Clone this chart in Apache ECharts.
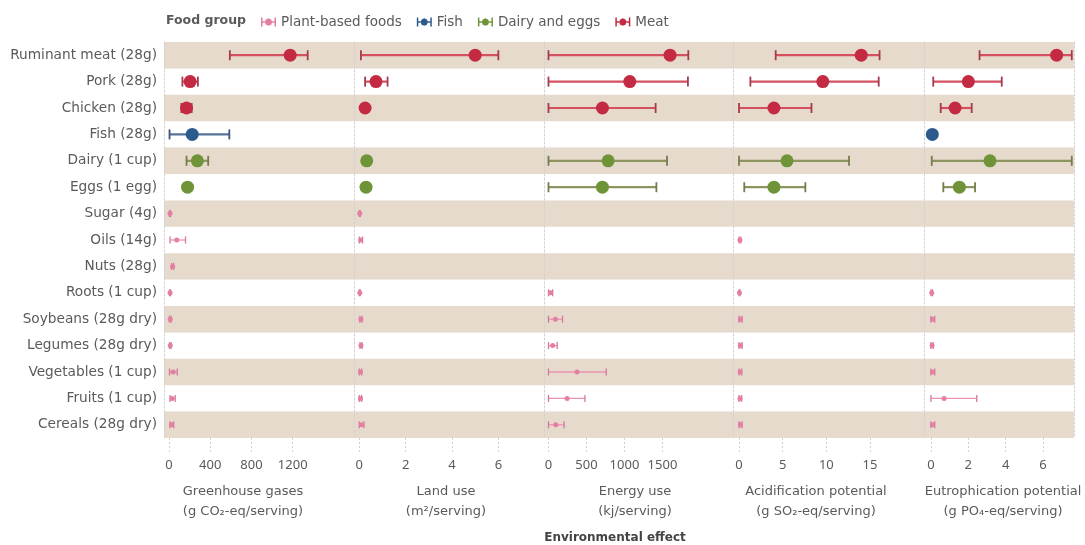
<!DOCTYPE html>
<html>
<head>
<meta charset="utf-8">
<title>Environmental effect of foods per serving</title>
<script src="https://cdn.jsdelivr.net/npm/echarts@6/dist/echarts.min.js"></script>
<style>
  html, body { margin: 0; padding: 0; background: #ffffff; }
  #chart { width: 1085px; height: 545px; }
</style>
</head>
<body>
<div id="chart"></div>
<script>
// Foods, top to bottom, with the food group each one belongs to
const categories = [
  'Ruminant meat (28g)', 'Pork (28g)', 'Chicken (28g)', 'Fish (28g)',
  'Dairy (1 cup)', 'Eggs (1 egg)', 'Sugar (4g)', 'Oils (14g)', 'Nuts (28g)',
  'Roots (1 cup)', 'Soybeans (28g dry)', 'Legumes (28g dry)',
  'Vegetables (1 cup)', 'Fruits (1 cup)', 'Cereals (28g dry)'
];
const foodGroups = [
  'Meat', 'Meat', 'Meat', 'Fish', 'Dairy and eggs', 'Dairy and eggs',
  'Plant-based foods', 'Plant-based foods', 'Plant-based foods',
  'Plant-based foods', 'Plant-based foods', 'Plant-based foods',
  'Plant-based foods', 'Plant-based foods', 'Plant-based foods'
];
const legendOrder = ['Plant-based foods', 'Fish', 'Dairy and eggs', 'Meat'];

// [low, median, high] per serving; null where no estimate exists
const greenhouse = [
  [590, 1175, 1345], [130, 205, 280], [120, 170, 220], [5, 225, 585],
  [170, 275, 380], [155, 180, 205], [5, 10, 15], [10, 75, 160], [25, 35, 45],
  [5, 10, 15], [5, 12, 20], [5, 12, 20], [5, 40, 80], [10, 30, 60], [10, 25, 45]
];
const landUse = [
  [0.07, 5.0, 6.0], [0.25, 0.72, 1.22], [0.15, 0.25, 0.35], null,
  [0.2, 0.32, 0.45], [0.2, 0.29, 0.4], [0.0, 0.02, 0.04], [0.0, 0.06, 0.14], null,
  [0.0, 0.02, 0.04], [0.02, 0.07, 0.12], [0.03, 0.07, 0.12], [0.0, 0.05, 0.1],
  [0.0, 0.05, 0.1], [0.0, 0.09, 0.2]
];
const energyUse = [
  [0, 1600, 1840], [0, 1070, 1835], [0, 710, 1410], null,
  [0, 785, 1560], [0, 710, 1420], null, null, null,
  [0, 25, 55], [0, 90, 185], [0, 55, 115], [0, 375, 760], [0, 245, 480], [0, 95, 205]
];
const acidification = [
  [4.2, 14.0, 16.1], [1.3, 9.6, 16.0], [0, 4.0, 8.3], null,
  [0, 5.5, 12.6], [0.6, 4.0, 7.6], null, [0, 0.1, 0.2], null,
  [0.0, 0.05, 0.1], [0, 0.15, 0.35], [0, 0.15, 0.35], [0, 0.12, 0.3],
  [0, 0.12, 0.3], [0, 0.15, 0.35]
];
const eutrophication = [
  [2.6, 6.73, 7.54], [0.12, 2.0, 3.79], [0.52, 1.29, 2.18], [0.02, 0.07, 0.12],
  [0.04, 3.16, 7.54], [0.66, 1.52, 2.36], null, null, null,
  [0, 0.04, 0.08], [0, 0.08, 0.2], [0, 0.06, 0.12], [0, 0.08, 0.2],
  [0, 0.7, 2.45], [0, 0.08, 0.2]
];

// Tick values shown under each panel
const greenhouseTicks = [0, 400, 800, 1200];
const landTicks = [0, 2, 4, 6];
const energyTicks = [0, 500, 1000, 1500];
const acidTicks = [0, 5, 10, 15];
const eutroTicks = [0, 2, 4, 6];

// Panel layout and axis extents
const panels = [
  { data: greenhouse, ticks: greenhouseTicks, left: 164, width: 190, min: -48.5, max: 1794,
    title: 'Greenhouse gases', unit: '(g CO\u2082-eq/serving)', titleX: 243 },
  { data: landUse, ticks: landTicks, left: 354, width: 190, min: -0.229, max: 7.97,
    title: 'Land use', unit: '(m\u00B2/serving)', titleX: 446 },
  { data: energyUse, ticks: energyTicks, left: 544, width: 189, min: -59, max: 2428,
    title: 'Energy use', unit: '(kj/serving)', titleX: 635 },
  { data: acidification, ticks: acidTicks, left: 733, width: 191, min: -0.69, max: 21.19,
    title: 'Acidification potential', unit: '(g SO\u2082-eq/serving)', titleX: 816 },
  { data: eutrophication, ticks: eutroTicks, left: 924, width: 150, min: -0.375, max: 7.66,
    title: 'Eutrophication potential', unit: '(g PO\u2084-eq/serving)', titleX: 1003 }
];

const PLOT_TOP = 42;
const PLOT_HEIGHT = 396;
const FONT = "'DejaVu Sans', sans-serif";
const NUM_FONT = "'Noto Sans', sans-serif";
const TEXT = '#5a5a5a';
const BAND = '#e6dacd';
const RULE = { color: '#d2d2d2', type: [2, 2], width: 1 };

// Mark styles per food group
const groupStyle = {
  'Plant-based foods': { point: '#e47ea2', line: '#eb93b2', cap: '#d3789a', r: 2.5, capH: 7, lw: 1.3, capW: 1.3 },
  'Fish':              { point: '#2c5a8c', line: '#56739a', cap: '#3d5675', r: 6.5, capH: 10, lw: 2.2, capW: 1.8 },
  'Dairy and eggs':    { point: '#6f9438', line: '#8c9460', cap: '#737c4a', r: 6.5, capH: 10, lw: 2.2, capW: 1.8 },
  'Meat':              { point: '#c42a42', line: '#d4505f', cap: '#a53b4b', r: 6.5, capH: 10, lw: 2.2, capW: 1.8 }
};

// Legend icon: a small error bar with a dot
const errorBarIcon = 'path://M0,0h2v12h-2z M18,0h2v12h-2z M2,5h3v2h-3z M15,5h3v2h-3z ' +
  'M10,1L13.5,2.5L15,6L13.5,9.5L10,11L6.5,9.5L5,6L6.5,2.5z';

function makeRenderer(st) {
  return function (params, api) {
    const row = api.value(3);
    const lo = api.coord([api.value(0), row]);
    const mid = api.coord([api.value(1), row]);
    const hi = api.coord([api.value(2), row]);
    const y = mid[1];
    const h = st.capH / 2;
    return {
      type: 'group',
      children: [
        { type: 'line', shape: { x1: lo[0], y1: y, x2: hi[0], y2: y },
          style: { stroke: st.line, lineWidth: st.lw } },
        { type: 'line', shape: { x1: lo[0], y1: y - h, x2: lo[0], y2: y + h },
          style: { stroke: st.cap, lineWidth: st.capW } },
        { type: 'line', shape: { x1: hi[0], y1: y - h, x2: hi[0], y2: y + h },
          style: { stroke: st.cap, lineWidth: st.capW } },
        { type: 'circle', shape: { cx: mid[0], cy: y, r: st.r },
          style: { fill: st.point } }
      ]
    };
  };
}

const grid = [], xAxis = [], yAxis = [], series = [], graphic = [];

panels.forEach(function (p, k) {
  grid.push({ left: p.left, top: PLOT_TOP, width: p.width, height: PLOT_HEIGHT });
  xAxis.push({
    type: 'value', gridIndex: k, min: p.min, max: p.max,
    axisLine: { show: false },
    splitLine: { show: false },
    axisTick: { show: true, customValues: p.ticks, length: 14,
      lineStyle: { color: '#dccccc', type: [2, 2], width: 1 } },
    axisLabel: { show: true, customValues: p.ticks, margin: 21,
      formatter: function (v) { return String(v); },
      color: TEXT, fontSize: 13, fontFamily: NUM_FONT }
  });
  yAxis.push({
    type: 'category', gridIndex: k, data: categories, inverse: true,
    axisLine: { show: true, onZero: false, lineStyle: RULE },
    axisTick: { show: false, interval: 0 },
    splitLine: { show: false },
    splitArea: { show: true, interval: 0, areaStyle: { color: [BAND, 'rgba(255,255,255,0)'] } },
    axisLabel: { show: k === 0, interval: 0, margin: 7, color: TEXT, fontSize: 13.7, fontFamily: FONT }
  });

  legendOrder.forEach(function (g) {
    const rows = [];
    p.data.forEach(function (v, i) {
      if (v && foodGroups[i] === g) rows.push([v[0], v[1], v[2], i]);
    });
    series.push({
      type: 'custom', name: g, xAxisIndex: k, yAxisIndex: k,
      renderItem: makeRenderer(groupStyle[g]),
      encode: { x: [0, 1, 2], y: 3 },
      itemStyle: { color: groupStyle[g].point },
      data: rows,
      silent: true
    });
  });

  graphic.push({ type: 'text', x: p.titleX, y: 492,
    style: { text: p.title, align: 'center', verticalAlign: 'middle',
      fill: TEXT, font: '13px ' + FONT } });
  graphic.push({ type: 'text', x: p.titleX, y: 512,
    style: { text: p.unit, align: 'center', verticalAlign: 'middle',
      fill: TEXT, font: '13px ' + FONT } });
});

// Right border of the last panel
yAxis.push({
  type: 'category', gridIndex: panels.length - 1, data: categories, inverse: true, position: 'right',
  axisLine: { show: true, onZero: false, lineStyle: RULE },
  axisTick: { show: false }, axisLabel: { show: false }, splitLine: { show: false }
});

graphic.push({ type: 'text', x: 615, y: 538,
  style: { text: 'Environmental effect', align: 'center', verticalAlign: 'middle',
    fill: '#444444', font: 'bold 12px ' + FONT } });

const option = {
  animation: false,
  backgroundColor: '#ffffff',
  title: { text: 'Food group', left: 161, top: 9,
    textStyle: { color: TEXT, fontSize: 12.5, fontWeight: 'bold', fontFamily: FONT } },
  legend: {
    left: 256, top: 10, itemWidth: 15, itemHeight: 10, itemGap: 15,
    selectedMode: false,
    textStyle: { color: TEXT, fontSize: 13.5, fontFamily: FONT },
    data: legendOrder.map(function (g) {
      return { name: g, icon: errorBarIcon, itemStyle: { color: groupStyle[g].point } };
    })
  },
  grid: grid,
  xAxis: xAxis,
  yAxis: yAxis,
  graphic: graphic,
  series: series
};

echarts.init(document.getElementById('chart'), null, { renderer: 'canvas' }).setOption(option);
</script>
</body>
</html>
